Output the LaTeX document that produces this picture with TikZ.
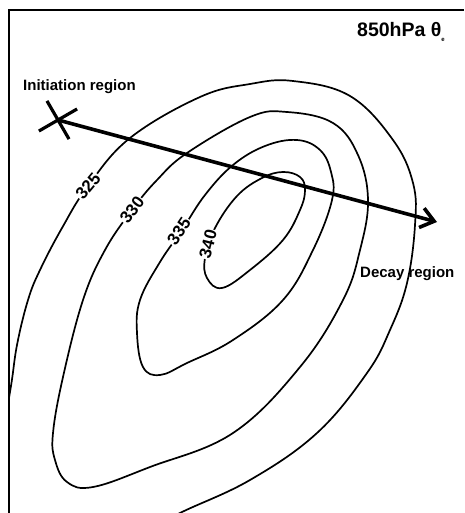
\documentclass[tikz,border=0pt]{standalone}
\usepackage{fontspec}
\setmainfont{Liberation Sans}
\usetikzlibrary{arrows.meta,shapes.misc}
\tikzset{
  frameline/.style={line width=2.6pt},
  contour/.style={line width=1.7pt, smooth, tension=0.65},
  clabel/.style={fill=white, inner sep=1pt, font=\bfseries\fontsize{17}{19}\selectfont},
  txt/.style={inner sep=0pt, font=\bfseries\fontsize{15}{18}\selectfont},
  track/.style={line width=3.6pt, -{Straight Barb[length=13pt,width=20pt]}},
  xmark/.style={cross out, draw, line width=3.2pt, minimum size=28pt, inner sep=0pt, rotate=-15}
}
\begin{document}
\begin{tikzpicture}[x=1pt,y=-1pt]
\useasboundingbox (0,0) rectangle (464,513);
% frame
\draw[frameline] (9,513) -- (9,10) -- (464,10);
\begin{scope}
\clip (10,11) rectangle (464,513);
% 325 contour (open, clipped)
\draw[contour] plot coordinates {(-6,480) (10,392) (17,345) (28,300) (40,270) (62,228) (88,186) (130,138) (200,97) (250,84) (293,81) (350,96) (393,140) (413,183) (415,225) (407,283) (390,330) (367,373) (317,433) (250,480) (180,513) (140,535)};
\end{scope}
% 330 contour
\draw[contour] plot[smooth cycle] coordinates {(287,112) (333,123) (358,155) (368,200) (360,250) (343,300) (300,367) (233,433) (150,467) (93,487) (67,482) (55,460) (53,433) (63,377) (83,300) (105,250) (132,210) (157,180) (187,153) (250,117)};
% 335 contour
\draw[contour] plot[smooth cycle] coordinates {(297,140) (320,150) (331,172) (332,200) (313,250) (283,300) (233,340) (187,363) (160,375) (143,367) (137,333) (140,300) (160,262) (182,230) (205,195) (233,165) (265,146)};
% 340 contour
\draw[contour] plot[smooth cycle] coordinates {(283,172) (300,177) (305,190) (300,210) (283,240) (250,270) (222,288) (207,278) (205,258) (215,228) (237,196) (262,178)};
% contour labels
\node[clabel, rotate=50] (l325) at (88,186) {325};
\node[clabel, rotate=53] (l330) at (132,210) {330};
\node[clabel, rotate=56] (l335) at (179,231) {335};
\node[clabel, rotate=76] (l340) at (208,244) {340};
% trajectory
\node[xmark] (init) at (58,120) {};
\coordinate (decay) at (437,222);
\draw[track] (init.center) -- (decay);
% texts
\node[txt, anchor=base west] (tinit) at (23,91) {Initiation region};
\node[txt, anchor=base west] (tdecay) at (360,277) {Decay region};
\node[inner sep=0pt, anchor=base west, font=\bfseries\fontsize{19.5}{22}\selectfont] (title) at (357,37) {850hPa θ\raisebox{-5pt}{\fontsize{6}{6}\selectfont e}};
\end{tikzpicture}
\end{document}
